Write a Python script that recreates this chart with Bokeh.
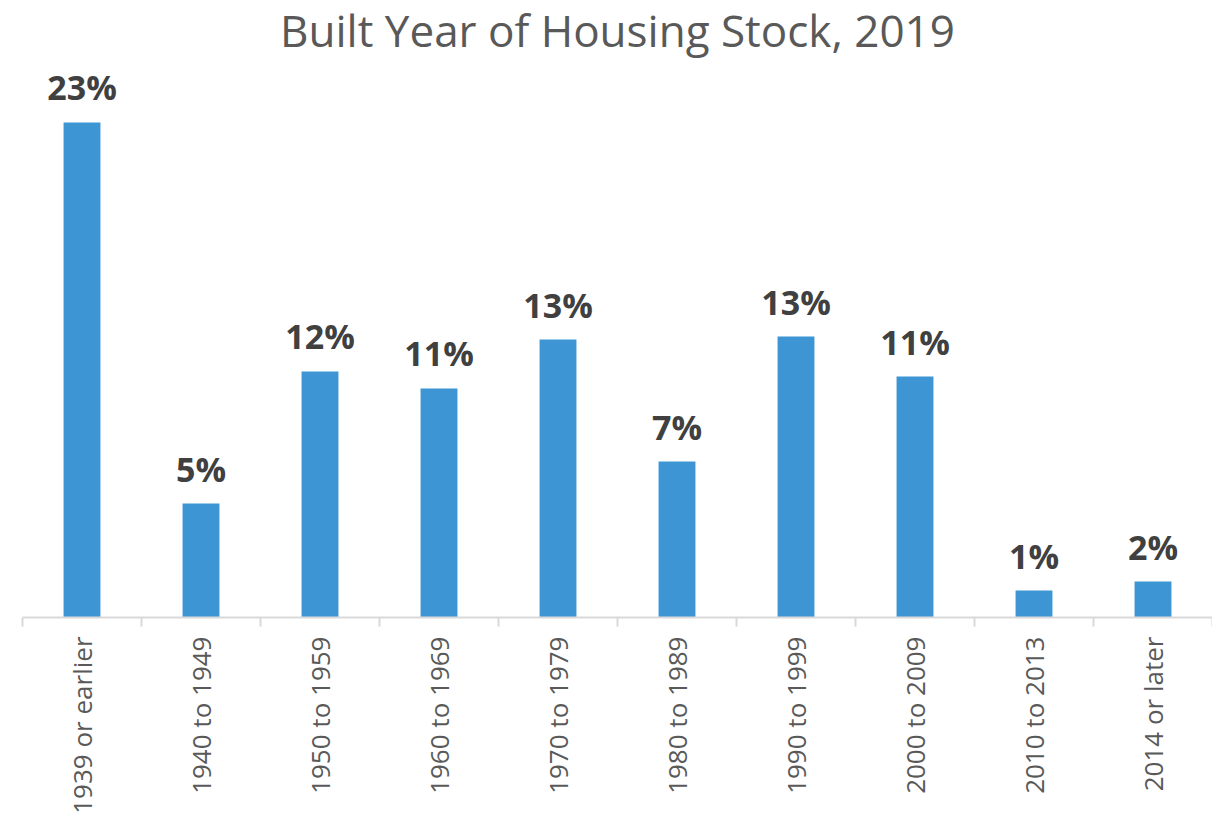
import math
from bokeh.plotting import figure
from bokeh.models import Range1d, FixedTicker, ColumnDataSource
from bokeh.core.properties import value
from bokeh.embed import file_html
from bokeh.resources import INLINE

title_text = "Built Year of Housing Stock, 2019"
categories = ["1939 or earlier", "1940 to 1949", "1950 to 1959", "1960 to 1969",
              "1970 to 1979", "1980 to 1989", "1990 to 1999", "2000 to 2009",
              "2010 to 2013", "2014 or later"]
shares = [23.3, 5.36, 11.58, 10.78, 13.08, 7.34, 13.22, 11.34, 1.27, 1.69]
labels = ["23%", "5%", "12%", "11%", "13%", "7%", "13%", "11%", "1%", "2%"]

n = len(categories)
centers = [i + 0.5 for i in range(n)]
boundaries = [float(i) for i in range(n + 1)]

TOP_PAD = 12
FRAME_H = 617 + TOP_PAD
PX_PER_UNIT = 21.25
y_top = FRAME_H / PX_PER_UNIT
title_y = (FRAME_H - TOP_PAD - 29) / PX_PER_UNIT

src = ColumnDataSource(dict(x=centers, top=shares, label=labels))

p = figure(frame_width=1190, frame_height=FRAME_H, output_backend="svg",
           toolbar_location=None, x_range=Range1d(0, n), y_range=Range1d(0, y_top),
           min_border_left=22, min_border_right=0, min_border_top=0, min_border_bottom=0,
           margin=(-TOP_PAD, 0, 0, 0))
p.outline_line_color = None
p.xgrid.visible = False
p.ygrid.visible = False
p.yaxis.visible = False
p.background_fill_color = "white"
p.border_fill_color = "white"

p.vbar(x="x", top="top", bottom=0, width=0.31, source=src,
       fill_color="#3E95D3", line_color=None)

p.text(x="x", y="top", text="label", source=src, text_align="center",
       text_baseline="alphabetic", y_offset=-35, text_font=value("Open Sans"),
       text_font_size="34px", text_font_style="bold", text_color="#404040")

p.text(x=[n / 2], y=[title_y], text=[title_text], text_align="center",
       text_baseline="alphabetic", text_font=value("Open Sans"), text_font_size="44px",
       text_color="#595959")

ax = p.xaxis[0]
ax.ticker = FixedTicker(ticks=centers, minor_ticks=boundaries)
ax.major_label_overrides = {c: lab for c, lab in zip(centers, categories)}
ax.major_label_orientation = math.pi / 2
ax.major_label_text_font = "Open Sans"
ax.major_label_text_font_size = "26px"
ax.major_label_text_color = "#595959"
ax.major_label_standoff = 10
ax.major_tick_line_color = None
ax.major_tick_out = 9
ax.major_tick_in = 0
ax.minor_tick_line_color = "#d9d9d9"
ax.minor_tick_line_width = 2
ax.minor_tick_out = 9
ax.minor_tick_in = 0
ax.axis_line_color = "#d9d9d9"
ax.axis_line_width = 2

open("out.html", "w").write(file_html(p, INLINE))
